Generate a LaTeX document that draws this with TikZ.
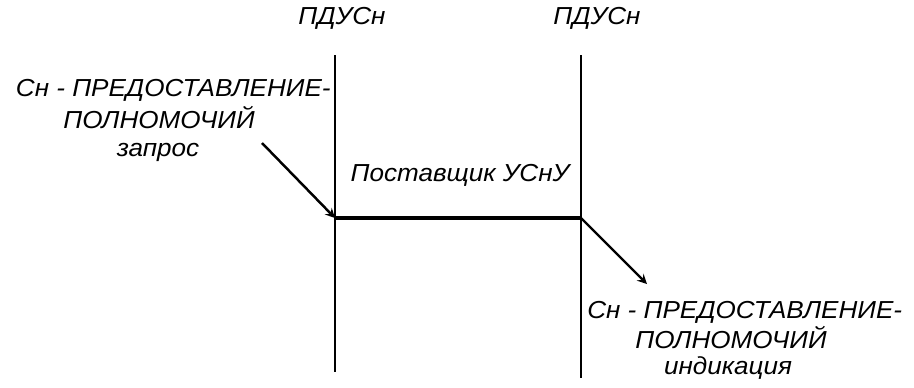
\documentclass[tikz,border=0pt]{standalone}
\usepackage{fontspec}
\setmainfont{Liberation Sans}[FakeStretch=1.06]
\usetikzlibrary{arrows}
\tikzset{>=stealth}
\tikzset{
  lbl/.style={font=\itshape\fontsize{14}{16}\selectfont, inner sep=0pt},
  sapline/.style={line width=1pt},
  servline/.style={line width=2.4pt},
  msgarrow/.style={->, line width=1.4pt}
}

\begin{document}
\begin{tikzpicture}[x=0.02cm,y=-0.02cm]
  \useasboundingbox (0,0) rectangle (914,387);
  % service access points
  \coordinate (LT) at (335,55);
  \coordinate (LB) at (335,372);
  \coordinate (RT) at (581,55);
  \coordinate (RB) at (581,378);
  \coordinate (LM) at (335,218);
  \coordinate (RM) at (581,218);
  \coordinate (reqfrom) at (262,143);
  \coordinate (indto) at (647,284);
  \draw[sapline] (LT) -- (LB);
  \draw[sapline] (RT) -- (RB);
  \draw[servline] (LM) -- (RM);
  \draw[msgarrow] (reqfrom) -- (LM);
  \draw[msgarrow] (RM) -- (indto);
  % labels
  \node[lbl] (sapL) at (342,18) {ПДУСн};
  \node[lbl] (sapR) at (597,18) {ПДУСн};
  \node[lbl, anchor=east] (req1) at (331,90) {Сн - ПРЕДОСТАВЛЕНИЕ-};
  \node[lbl] (req2) at (159,118) {ПОЛНОМОЧИЙ};
  \node[lbl] (req3) at (158,152) {запрос};
  \node[lbl] (prov) at (460,175) {Поставщик УСнУ};
  \node[lbl, anchor=west] (ind1) at (587,312) {Сн - ПРЕДОСТАВЛЕНИЕ-};
  \node[lbl] (ind2) at (731,338) {ПОЛНОМОЧИЙ};
  \node[lbl] (ind3) at (728,368) {индикация};
\end{tikzpicture}
\end{document}
